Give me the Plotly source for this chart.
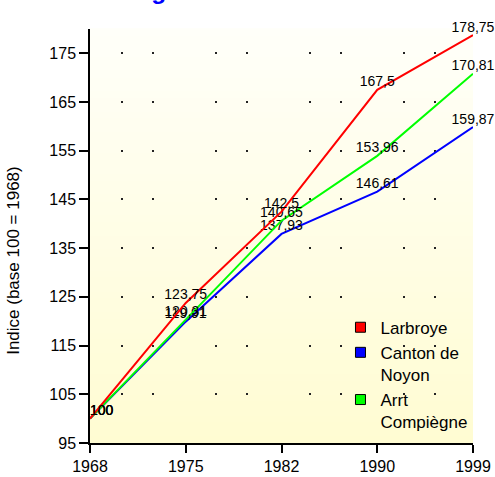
import plotly.graph_objects as go

# Index values (base 100 = 1968)
years = ["1968", "1975", "1982", "1990", "1999"]
larbroye = [100, 123.75, 142.5, 167.5, 178.75]
canton_noyon = [100, 119.91, 137.93, 146.61, 159.87]
arrt_compiegne = [100, 120.31, 140.65, 153.96, 170.81]
y_ticks = [95, 105, 115, 125, 135, 145, 155, 165, 175]

series = [
    ("Canton de<br>Noyon", canton_noyon, "#0000FF"),
    ("Arrt<br>Compiègne", arrt_compiegne, "#00FF00"),
    ("Larbroye", larbroye, "#FF0000"),
]
legend_order = [("Larbroye", "#FF0000"),
                ("Canton de<br>Noyon", "#0000FF"),
                ("Arrt<br>Compiègne", "#00FF00")]


def fr(v):
    """Format a number with a French decimal comma."""
    s = f"{v:.2f}".rstrip("0").rstrip(".")
    return s.replace(".", ",")


FONT = "Arial, Liberation Sans, sans-serif"
fig = go.Figure()

for name, vals, color in series:
    fig.add_trace(go.Scatter(
        x=years, y=vals, mode="lines+text", name=name, showlegend=False,
        line=dict(color=color, width=2),
        text=[fr(v) for v in vals],
        textposition=["top right"] + ["top center"] * (len(vals) - 1),
        textfont=dict(family=FONT, size=14, color="black"),
        cliponaxis=False, hoverinfo="skip",
    ))

# square swatches for the legend
for name, color in legend_order:
    fig.add_trace(go.Scatter(
        x=[None], y=[None], mode="markers", name=name,
        marker=dict(symbol="square", size=10, color=color,
                    line=dict(color="black", width=1)),
    ))

# soft vertical gradient behind the plot area
n_strips = 60
top_rgb = (255, 255, 249)
bot_rgb = (255, 252, 210)
shapes = []
for i in range(n_strips):
    t = i / (n_strips - 1)
    r = round(bot_rgb[0] + (top_rgb[0] - bot_rgb[0]) * t)
    g = round(bot_rgb[1] + (top_rgb[1] - bot_rgb[1]) * t)
    b = round(bot_rgb[2] + (top_rgb[2] - bot_rgb[2]) * t)
    shapes.append(dict(type="rect", xref="paper", yref="paper", layer="below",
                       x0=0, x1=1, y0=i / n_strips, y1=(i + 1) / n_strips + 0.002,
                       line=dict(width=0), fillcolor=f"rgb({r},{g},{b})"))

fig.update_layout(
    width=495, height=477,
    margin=dict(l=90, r=22, t=29, b=34, autoexpand=False),
    paper_bgcolor="white", plot_bgcolor="rgba(0,0,0,0)",
    font=dict(family=FONT, size=16, color="black"),
    shapes=shapes,
    showlegend=True,
    legend=dict(x=0.654, y=0.322, xanchor="left", yanchor="top",
                bgcolor="rgba(0,0,0,0)", borderwidth=0, valign="top",
                font=dict(family=FONT, size=17, color="black"),
                tracegroupgap=2, itemwidth=30),
    annotations=[
        dict(text="<b>Évolution du nombre<br>de logements entre 1968 et 1999</b>",
             xref="paper", yref="paper", x=0.5, y=1, xanchor="center",
             yanchor="bottom", yshift=23, showarrow=False,
             font=dict(family=FONT, size=24.5, color="#0000FF")),
        dict(text="Indice (base 100 = 1968)", xref="paper", yref="paper",
             x=0, xshift=-76, y=0.44, xanchor="center", yanchor="middle",
             textangle=-90, showarrow=False,
             font=dict(family=FONT, size=17, color="black")),
    ],
)

fig.update_xaxes(
    type="category", categoryorder="array", categoryarray=years,
    range=[0, len(years) - 1], automargin=False,
    showline=True, linecolor="black", linewidth=1.5,
    ticks="outside", ticklen=8, tickcolor="black", tickwidth=1.5,
    showgrid=False, zeroline=False,
    tickfont=dict(family=FONT, size=16, color="black"),
)
fig.update_yaxes(
    range=[95, 180], tickvals=y_ticks, automargin=False,
    showline=True, linecolor="black", linewidth=1.5,
    ticks="outside", ticklen=9, tickcolor="black", tickwidth=1.5,
    showgrid=True, gridcolor="#222222", gridwidth=1.5,
    griddash="0px,31px,2px,29px,2px,30px",
    zeroline=False,
    tickfont=dict(family=FONT, size=16, color="black"),
)

fig.write_html("out.html")
